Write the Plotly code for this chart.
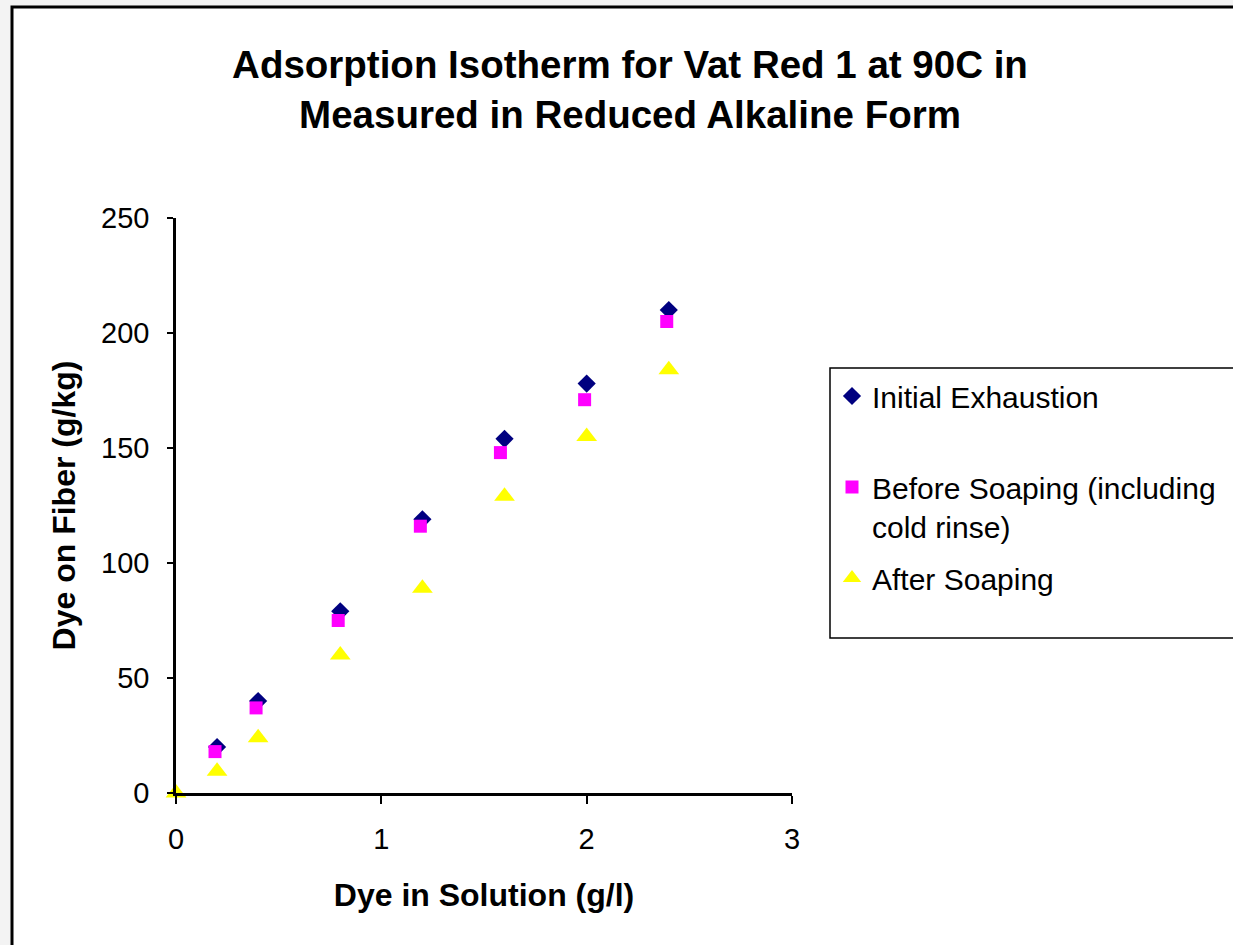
import plotly.graph_objects as go

# ---- data ----
x_initial = [0.2, 0.4, 0.8, 1.2, 1.6, 2.0, 2.4]
y_initial = [20, 40, 79, 119, 154, 178, 210]

x_before = [0.19, 0.39, 0.79, 1.19, 1.58, 1.99, 2.39]
y_before = [18, 37, 75, 116, 148, 171, 205]

x_after = [0, 0.2, 0.4, 0.8, 1.2, 1.6, 2.0, 2.4]
y_after = [0, 9.5, 24, 60, 89, 129, 155, 184]

names = ["Initial Exhaustion<br> ", "Before Soaping (including<br>cold rinse)", "After Soaping"]
x_ticks = [0, 1, 2, 3]
y_ticks = [0, 50, 100, 150, 200, 250]

FONT = "Liberation Sans, Arial, sans-serif"

fig = go.Figure()
fig.add_trace(go.Scatter(x=x_initial, y=y_initial, mode="markers", name=names[0],
                         legendgroup="a",
                         marker=dict(symbol="diamond", size=14, color="#000080"),
                         cliponaxis=False))
fig.add_trace(go.Scatter(x=x_before, y=y_before, mode="markers", name=names[1],
                         legendgroup="b",
                         marker=dict(symbol="square", size=13, color="#ff00ff"),
                         cliponaxis=False))
fig.add_trace(go.Scatter(x=x_after, y=y_after, mode="markers", name=names[2],
                         legendgroup="c",
                         marker=dict(symbol="triangle-up", size=18, color="#ffff00"),
                         cliponaxis=False))

L, R, T, B = 176, 1233 - 792, 218, 945 - 793
PW, PH = 1233 - L - R, 945 - T - B

def px_x(px):
    return (px - L) / PW

def px_y(py):
    return (945 - B - py) / PH

fig.update_layout(
    width=1233, height=945, autosize=False,
    margin=dict(l=L, r=R, t=T, b=B),
    paper_bgcolor="#f3f3f3",
    plot_bgcolor="rgba(0,0,0,0)",
    font=dict(family=FONT, color="black"),
    title=dict(text="<b>Adsorption Isotherm for Vat Red 1 at 90C in<br>Measured in Reduced Alkaline Form</b>",
               x=630 / 1233, xanchor="center", xref="container",
               y=1 - 78 / 945, yanchor="middle", yref="container",
               font=dict(size=38.5, family=FONT, color="black")),
    xaxis=dict(range=[0, 3], tickvals=x_ticks, ticks="outside", ticklen=8, tickwidth=2,
               tickcolor="black", showline=True, linecolor="black", linewidth=2.5,
               showgrid=False, zeroline=False, tickfont=dict(size=29),
               ticklabelstandoff=10,
               title=dict(text="<b>Dye in Solution (g/l)</b>", font=dict(size=32), standoff=31)),
    yaxis=dict(range=[0, 250], tickvals=y_ticks, ticks="outside", ticklen=6, tickwidth=2,
               tickcolor="black", showline=True, linecolor="black", linewidth=2.5,
               showgrid=False, zeroline=False, tickfont=dict(size=29),
               ticklabelstandoff=12,
               title=dict(text="<b>Dye on Fiber (g/kg)</b>", font=dict(size=32), standoff=16)),
    showlegend=True,
    legend=dict(x=px_x(832), xanchor="left", y=px_y(370), yanchor="top",
                bgcolor="rgba(0,0,0,0)", borderwidth=0,
                font=dict(size=30, family=FONT, color="black"),
                traceorder="grouped", tracegroupgap=10, valign="top"),
    shapes=[
        dict(type="rect", xref="paper", yref="paper", layer="below",
             x0=px_x(12), x1=px_x(1250), y0=px_y(960), y1=px_y(7),
             fillcolor="white", line=dict(color="black", width=3)),
        dict(type="rect", xref="paper", yref="paper", layer="below",
             x0=px_x(830), x1=px_x(1250), y0=px_y(638), y1=px_y(368),
             fillcolor="white", line=dict(color="black", width=1.5)),
    ],
)

fig.write_html("out.html", config={"displayModeBar": False},
               post_script="document.body.style.margin='0';document.body.style.overflow='hidden';")
